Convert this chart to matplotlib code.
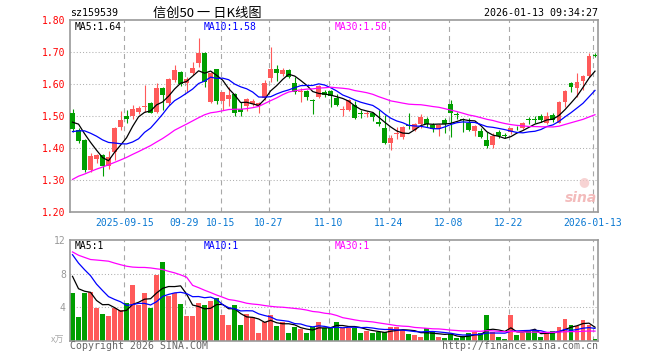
import numpy as np
import pandas as pd
import matplotlib
matplotlib.use("Agg")
import matplotlib.pyplot as plt

plt.rcParams['lines.scale_dashes'] = False

# 日K数据, 从左到右 88 根 (读自图中)
opens = [1.509, 1.455, 1.425, 1.332, 1.366, 1.378, 1.345, 1.388, 1.467, 1.500,
         1.500, 1.512, 1.529, 1.540, 1.511, 1.587, 1.540, 1.612, 1.638, 1.602,
         1.633, 1.667, 1.698, 1.545, 1.646, 1.548, 1.553, 1.569, 1.521, 1.530,
         1.537, 1.531, 1.555, 1.618, 1.646, 1.630, 1.645, 1.604, 1.575, 1.579,
         1.549, 1.560, 1.576, 1.578, 1.556, 1.518, 1.519, 1.534, 1.508, 1.507,
         1.510, 1.482, 1.461, 1.417, 1.445, 1.433, 1.470, 1.456, 1.475, 1.490,
         1.472, 1.458, 1.488, 1.538, 1.504, 1.491, 1.479, 1.454, 1.453, 1.425,
         1.409, 1.450, 1.438, 1.451, 1.462, 1.464, 1.488, 1.488, 1.500, 1.477,
         1.503, 1.479, 1.545, 1.604, 1.589, 1.610, 1.625, 1.690]
highs = [1.522, 1.462, 1.428, 1.383, 1.382, 1.382, 1.390, 1.465, 1.517, 1.519,
         1.534, 1.530, 1.597, 1.545, 1.603, 1.590, 1.618, 1.660, 1.642, 1.623,
         1.670, 1.743, 1.700, 1.636, 1.648, 1.576, 1.590, 1.572, 1.545, 1.556,
         1.552, 1.545, 1.612, 1.715, 1.659, 1.650, 1.648, 1.622, 1.586, 1.582,
         1.552, 1.596, 1.580, 1.580, 1.570, 1.531, 1.552, 1.548, 1.520, 1.515,
         1.512, 1.520, 1.503, 1.440, 1.467, 1.470, 1.508, 1.477, 1.506, 1.496,
         1.478, 1.474, 1.493, 1.550, 1.512, 1.494, 1.493, 1.472, 1.464, 1.450,
         1.446, 1.457, 1.448, 1.463, 1.468, 1.482, 1.497, 1.501, 1.506, 1.514,
         1.508, 1.546, 1.581, 1.607, 1.635, 1.628, 1.698, 1.696]
lows = [1.451, 1.415, 1.325, 1.325, 1.352, 1.313, 1.335, 1.362, 1.455, 1.477,
        1.490, 1.505, 1.514, 1.508, 1.508, 1.520, 1.535, 1.605, 1.595, 1.576,
        1.628, 1.654, 1.590, 1.540, 1.537, 1.519, 1.530, 1.500, 1.500, 1.515,
        1.530, 1.508, 1.550, 1.605, 1.610, 1.625, 1.620, 1.570, 1.545, 1.550,
        1.506, 1.555, 1.560, 1.529, 1.530, 1.500, 1.515, 1.490, 1.495, 1.497,
        1.485, 1.470, 1.413, 1.394, 1.427, 1.428, 1.458, 1.452, 1.462, 1.465,
        1.450, 1.437, 1.448, 1.435, 1.492, 1.450, 1.454, 1.437, 1.430, 1.399,
        1.399, 1.430, 1.430, 1.445, 1.455, 1.459, 1.474, 1.479, 1.482, 1.475,
        1.482, 1.477, 1.527, 1.576, 1.560, 1.581, 1.623, 1.683]
closes = [1.460, 1.423, 1.331, 1.375, 1.377, 1.345, 1.373, 1.462, 1.488, 1.492,
          1.521, 1.524, 1.532, 1.510, 1.587, 1.566, 1.615, 1.644, 1.600, 1.615,
          1.649, 1.698, 1.607, 1.633, 1.548, 1.574, 1.566, 1.508, 1.514, 1.553,
          1.548, 1.542, 1.604, 1.646, 1.635, 1.645, 1.622, 1.576, 1.577, 1.560,
          1.547, 1.593, 1.566, 1.561, 1.534, 1.520, 1.550, 1.493, 1.506, 1.509,
          1.498, 1.474, 1.415, 1.432, 1.447, 1.465, 1.468, 1.474, 1.496, 1.474,
          1.458, 1.472, 1.474, 1.508, 1.502, 1.489, 1.456, 1.469, 1.433, 1.406,
          1.437, 1.437, 1.437, 1.461, 1.461, 1.477, 1.487, 1.487, 1.488, 1.500,
          1.488, 1.545, 1.578, 1.592, 1.607, 1.625, 1.688, 1.689]
# 成交量 (万)
volumes = [5.72, 2.84, 5.72, 5.84, 3.96, 3.20, 2.96, 3.88, 3.68, 4.48,
           6.68, 4.28, 5.72, 3.96, 7.88, 9.44, 5.36, 5.68, 4.40, 2.96,
           2.96, 4.48, 4.28, 4.76, 5.16, 3.08, 1.88, 4.28, 1.88, 3.20,
           2.80, 0.92, 2.28, 3.08, 1.76, 2.20, 0.92, 1.64, 1.40, 0.92,
           1.64, 2.20, 1.60, 1.56, 2.24, 1.60, 1.60, 1.60, 0.92, 1.16,
           0.92, 1.04, 1.04, 1.64, 1.64, 1.36, 0.80, 0.68, 0.48, 1.60,
           1.04, 0.48, 0.32, 0.80, 0.32, 0.56, 0.92, 1.04, 0.92, 3.08,
           1.04, 0.44, 0.20, 3.08, 0.68, 0.92, 1.16, 1.16, 0.44, 0.92,
           1.16, 1.64, 2.60, 1.88, 1.76, 2.48, 1.88, 0.20]

# 图左端之前的收盘价/成交量, 图上看不到, 按左端均线位置估的, 只用来算均线
pre_close = [1.12, 1.13, 1.14, 1.15, 1.15, 1.16,
             1.24, 1.26, 1.25, 1.24, 1.26, 1.25,
             1.23, 1.25, 1.24, 1.24, 1.24,
             1.31, 1.33, 1.35,
             1.40, 1.33, 1.45, 1.47, 1.46, 1.453, 1.48, 1.51, 1.50]
pre_vol = [14.5, 13.5, 13.4, 5.8, 5.2, 5.1, 10.5, 9.6, 9.8, 9.8,
           5.5, 5.8, 5.7, 11.0, 12.0, 11.7, 11.2, 11.5, 11.3, 32.0,
           12.8, 13.5, 13.0, 14.0, 10.8, 10.2, 7.2, 6.5, 8.8]

tick_idx = [9, 19, 25, 33, 43, 53, 63, 73, 87]
tick_labels = ["2025-09-15", "09-29", "10-15", "10-27", "11-10",
               "11-24", "12-08", "12-22", "2026-01-13"]

RED = '#ff5a5a'
GREEN = '#009e00'
MONO = 'DejaVu Sans Mono'
CJK = ['Noto Sans CJK SC', 'DejaVu Sans']

n = len(closes)
x = np.arange(n)
o = np.array(opens); c = np.array(closes)
up = c >= o
colors = [RED if u else GREEN for u in up]


def ma(pre, vals, k):
    s = pd.Series(pre + vals)
    return s.rolling(k).mean().iloc[len(pre):].values


ma_p = {k: ma(pre_close, closes, k) for k in (5, 10, 30)}
ma_v = {k: ma(pre_vol, volumes, k) for k in (5, 10, 30)}
ma_col = {5: 'black', 10: '#0000ff', 30: '#ff00ff'}

W, H = 660, 360
fig = plt.figure(figsize=(6.6, 3.6), dpi=100)
ax = fig.add_axes([70 / W, 1 - 212 / H, 527.7 / W, 192 / H])
axv = fig.add_axes([70 / W, 1 - 341 / H, 527.7 / W, 101 / H])

xmin, xmax = -0.4167, 87.45
grid_x = [t - 0.35 for t in tick_idx]

for a in (ax, axv):
    a.set_xlim(xmin, xmax)
    for g in grid_x:
        a.axvline(g, color='#a8a8a8', lw=0.8, ls=(0, (3.6, 2.9)), zorder=0)
    for sp in a.spines.values():
        sp.set_color('#999999')
        sp.set_linewidth(1.2)
    a.tick_params(length=0)

# K线
ax.set_ylim(1.20, 1.80)
for p in [1.30, 1.40, 1.50, 1.60, 1.70]:
    ax.axhline(p, color='#b0b0b0', lw=0.75, ls=(0, (0.75, 1.5)), zorder=0)
ax.vlines(x, lows, highs, colors=colors, lw=0.8, zorder=2)
body_lo = np.minimum(o, c)
body_h = np.maximum(np.abs(c - o), 0.003)
ax.bar(x, body_h, bottom=body_lo, width=0.82, color=colors, lw=0, zorder=3)
for k in (5, 10, 30):
    ax.plot(x, ma_p[k], color=ma_col[k], lw=0.9, zorder=4)

ax.set_yticks([1.20, 1.30, 1.40, 1.50, 1.60, 1.70, 1.80])
ax.set_yticklabels([f"{v:.2f}" for v in ax.get_yticks()], color='red',
                   family=MONO, fontsize=7)
ax.tick_params(axis='y', pad=3.6)
ax.set_xticks(grid_x)
ax.set_xticklabels(tick_labels, color='#0a78d2', family=MONO, fontsize=7)
ax.tick_params(axis='x', pad=4)

# 成交量
axv.set_ylim(0, 12)
for v in [4, 8]:
    axv.axhline(v, color='#b0b0b0', lw=0.75, ls=(0, (0.75, 1.5)), zorder=0)
axv.bar(x, volumes, width=0.82, color=colors, lw=0, zorder=2)
for k in (5, 10, 30):
    axv.plot(x, ma_v[k], color=ma_col[k], lw=0.9, zorder=3)
axv.set_yticks([4, 8, 12])
axv.set_yticklabels(["4", "8", "12"], color='#999999', family=MONO, fontsize=7)
axv.tick_params(axis='y', pad=3)
axv.set_xticks([])


def px(xp, yp):
    return xp / W, 1 - yp / H


fig.text(*px(70, 13), "sz159539", family=MONO, fontsize=7.2, va='center')
fig.text(*px(207, 13), "信创50 一 日K线图", family=CJK, fontsize=9.5,
         ha='center', va='center')
fig.text(*px(597.7, 13), "2026-01-13 09:34:27", family=MONO, fontsize=7.2,
         ha='right', va='center')

fig.text(*px(74.5, 26.5), f"MA5:{ma_p[5][-1]:.2f}", family=MONO, fontsize=7,
         va='center', color=ma_col[5])
fig.text(*px(204, 26.5), f"MA10:{ma_p[10][-1]:.2f}", family=MONO, fontsize=7,
         va='center', color=ma_col[10])
fig.text(*px(335, 26.5), f"MA30:{ma_p[30][-1]:.2f}", family=MONO, fontsize=7,
         va='center', color=ma_col[30])

fig.text(*px(74.5, 246), f"MA5:{int(ma_v[5][-1])}", family=MONO, fontsize=7,
         va='center', color=ma_col[5])
fig.text(*px(204, 246), f"MA10:{int(ma_v[10][-1])}", family=MONO, fontsize=7,
         va='center', color=ma_col[10])
fig.text(*px(335, 246), f"MA30:{int(ma_v[30][-1])}", family=MONO, fontsize=7,
         va='center', color=ma_col[30])

fig.text(*px(64, 340.5), "x万", family=CJK, fontsize=6.5, color='#aaaaaa',
         ha='right', va='center', style='italic')
fig.text(*px(70, 346), "Copyright 2026 SINA.COM", family=MONO, fontsize=7.1,
         color='#666666', va='center')
fig.text(*px(597.7, 346), "http://finance.sina.com.cn", family=MONO,
         fontsize=7.1, color='#666666', ha='right', va='center')

# 水印
fig.text(*px(581, 198), "sina", fontsize=10, color='#f2b4b4', style='italic',
         weight='bold', ha='center', va='center', alpha=0.9)
fig.text(*px(584, 182), "●", fontsize=9, color='#f6c8c8', ha='center',
         va='center', alpha=0.8)

fig.savefig("out.png", dpi=100)
